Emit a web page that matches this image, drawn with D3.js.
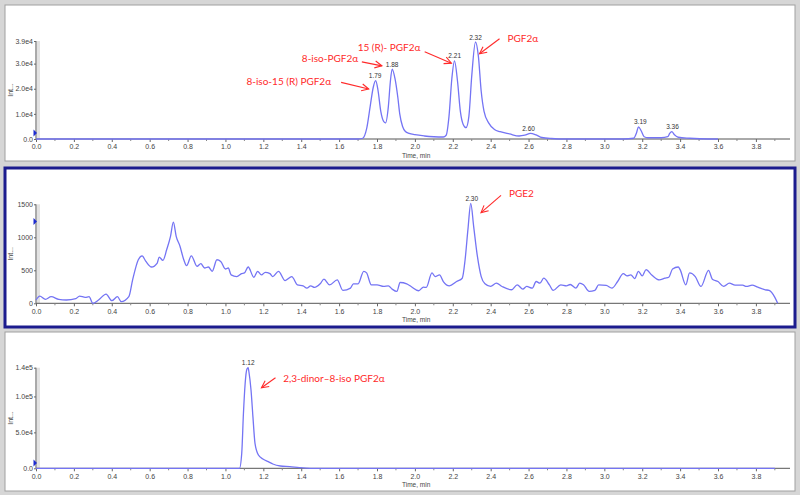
<!DOCTYPE html>
<html>
<head>
<meta charset="utf-8">
<script src="https://cdn.jsdelivr.net/npm/d3@7"></script>
<style>
  body { margin: 0; background: #d6d6d6; }
  svg { display: block; }
</style>
</head>
<body>
<div id="chart"></div>
<script>
const width = 800;
const height = 495;

// top trace (XIC) - time in min, intensity in cps
const topTime = [0, 1.70, 1.725, 1.745, 1.765, 1.78, 1.793, 1.805, 1.82, 1.835, 1.845, 1.86, 1.87, 1.88, 1.895, 1.91, 1.92, 1.935, 1.95, 1.97, 2.00, 2.05, 2.10, 2.15, 2.165, 2.18, 2.195, 2.209, 2.225, 2.24, 2.255, 2.27, 2.285, 2.30, 2.32, 2.335, 2.35, 2.365, 2.39, 2.42, 2.45, 2.50, 2.55, 2.58, 2.61, 2.64, 2.67, 2.72, 2.80, 3.10, 3.155, 3.17, 3.18, 3.195, 3.21, 3.23, 3.30, 3.335, 3.345, 3.356, 3.37, 3.39, 3.45, 3.55, 3.60];
const topIntensity = [0, 0, 300, 4000, 13500, 20500, 23200, 19500, 11000, 7000, 6400, 13000, 22500, 27800, 24000, 16500, 10000, 5000, 3000, 2200, 1700, 1200, 900, 800, 1500, 9000, 24000, 31100, 23000, 11000, 5800, 4500, 9000, 25000, 38600, 33000, 19000, 11000, 6300, 3800, 2900, 2000, 1200, 1500, 2200, 1600, 600, 200, 0, 0, 300, 2500, 4800, 3200, 900, 500, 500, 900, 2200, 2900, 1700, 700, 300, 0, 0];
const topPeaks = [1.79, 1.88, 2.21, 2.32, 2.60, 3.19, 3.36];
const topTicks = [0, 10000, 20000, 30000, 39000];
const topTickLabels = ["0.0", "1.0e4", "2.0e4", "3.0e4", "3.9e4"];

// middle trace
const midTime = [0, 0.02, 0.05, 0.08, 0.12, 0.16, 0.21, 0.23, 0.26, 0.28, 0.30, 0.33, 0.37, 0.40, 0.43, 0.45, 0.49, 0.51, 0.54, 0.56, 0.58, 0.61, 0.64, 0.65, 0.67, 0.69, 0.71, 0.725, 0.74, 0.76, 0.78, 0.795, 0.82, 0.85, 0.87, 0.89, 0.91, 0.93, 0.955, 0.975, 1.0, 1.015, 1.03, 1.06, 1.085, 1.10, 1.12, 1.15, 1.17, 1.19, 1.21, 1.235, 1.25, 1.28, 1.315, 1.35, 1.38, 1.41, 1.43, 1.45, 1.47, 1.50, 1.52, 1.55, 1.59, 1.62, 1.66, 1.675, 1.70, 1.73, 1.745, 1.77, 1.80, 1.835, 1.86, 1.88, 1.905, 1.922, 1.957, 1.98, 2.02, 2.045, 2.06, 2.09, 2.107, 2.13, 2.15, 2.182, 2.22, 2.25, 2.265, 2.28, 2.295, 2.31, 2.33, 2.35, 2.37, 2.40, 2.43, 2.46, 2.51, 2.54, 2.57, 2.59, 2.62, 2.64, 2.66, 2.68, 2.71, 2.73, 2.77, 2.80, 2.82, 2.85, 2.87, 2.89, 2.92, 2.95, 2.97, 3.01, 3.04, 3.07, 3.10, 3.12, 3.14, 3.16, 3.18, 3.20, 3.22, 3.25, 3.29, 3.32, 3.34, 3.36, 3.39, 3.40, 3.43, 3.45, 3.48, 3.51, 3.55, 3.57, 3.60, 3.63, 3.66, 3.69, 3.73, 3.75, 3.78, 3.81, 3.85, 3.87, 3.90, 3.915];
const midIntensity = [50, 110, 60, 100, 60, 50, 70, 110, 90, 100, 0, 50, 140, 40, 100, 25, 100, 355, 660, 720, 635, 550, 610, 700, 650, 815, 1015, 1230, 1015, 865, 660, 570, 720, 560, 600, 535, 550, 485, 660, 635, 520, 535, 430, 405, 450, 460, 550, 395, 485, 430, 470, 450, 405, 485, 345, 405, 280, 265, 230, 265, 240, 295, 365, 280, 355, 195, 230, 295, 295, 485, 460, 280, 280, 255, 265, 215, 180, 315, 295, 255, 190, 245, 240, 460, 405, 430, 330, 265, 330, 380, 660, 1120, 1515, 1170, 710, 405, 295, 255, 305, 255, 205, 280, 215, 255, 230, 330, 305, 380, 280, 195, 280, 265, 285, 230, 305, 280, 180, 195, 280, 270, 230, 330, 450, 415, 430, 375, 485, 415, 510, 430, 355, 380, 395, 520, 550, 510, 280, 460, 405, 255, 500, 365, 330, 255, 305, 275, 275, 255, 275, 245, 205, 195, 90, 0];
const midPeaks = [2.30];
const midTicks = [0, 500, 1000, 1500];
const midTickLabels = ["0", "500", "1000", "1500"];

// bottom trace
const botTime = [0, 1.074, 1.086, 1.095, 1.104, 1.113, 1.12, 1.124, 1.135, 1.145, 1.156, 1.174, 1.20, 1.226, 1.25, 1.29, 1.34, 1.39, 1.45, 3.9];
const botIntensity = [0, 0, 20900, 76500, 118000, 137700, 140000, 134000, 109000, 71900, 34800, 18500, 12500, 9300, 6000, 3200, 2300, 900, 0, 0];
const botPeaks = [1.12];
const botTicks = [0, 50000, 100000, 140000];
const botTickLabels = ["0.0", "5.0e4", "1.0e5", "1.4e5"];

const timeTicks = d3.range(0, 40, 2).map(d => d / 10);

// compound names for the red annotations
const annoNames = ["8-iso-15 (R) PGF2α", "8-iso-PGF2α", "15 (R)- PGF2α", "PGF2α", "PGE2", "2,3-dinor\u20138-iso PGF2α"];
const annoPeaks = [1.79, 1.88, 2.21, 2.32, 2.30, 1.12];
const annoPanel = [0, 0, 0, 0, 1, 2];

// ---- layout ----
const panels = [
  {left: 5, topEdge: 5, w: 790, h: 156, base: 139, top: 41, max: 39000, time: topTime, val: topIntensity, peaks: topPeaks, ticks: topTicks, labels: topTickLabels, stroke: '#a0a0a0', sw: 1, tri: 133},
  {left: 5, topEdge: 168, w: 790, h: 159, base: 303.3, top: 204.3, max: 1500, time: midTime, val: midIntensity, peaks: midPeaks, ticks: midTicks, labels: midTickLabels, stroke: '#1c1c8e', sw: 3, tri: 221.5},
  {left: 5, topEdge: 332, w: 790, h: 159, base: 468.3, top: 367.7, max: 140000, time: botTime, val: botIntensity, peaks: botPeaks, ticks: botTicks, labels: botTickLabels, stroke: '#a0a0a0', sw: 1, tri: 463}
];

// arrow tail / tip and text offsets from each peak apex (px)
const annoLayout = [
  {tail: [-34, 1.7], tip: [-6.4, 8.3], text: [-44, 4], anchor: 'end'},
  {tail: [-30.3, -7.3], tip: [-10.3, -3.3], text: [-34, -7.6], anchor: 'end'},
  {tail: [-30, -9], tip: [-3.3, 2.3], text: [-34.3, -10], anchor: 'end'},
  {tail: [24, -3.3], tip: [4, 11.7], text: [32, 0], anchor: 'start'},
  {tail: [29.3, -8], tip: [9.3, 9.3], text: [37.3, -6], anchor: 'start'},
  {tail: [27.3, 10], tip: [13.3, 20], text: [35, 14.3], anchor: 'start'}
];

const x = d3.scaleLinear().domain([0, 3.98]).range([36, 790]);

const svg = d3.select('#chart')
  .append('svg')
  .attr('width', width)
  .attr('height', height);

svg.append('rect')
  .attr('width', width)
  .attr('height', height)
  .attr('fill', '#d6d6d6');

svg.append('defs').append('marker')
  .attr('id', 'arrow')
  .attr('viewBox', '-8 -5 10 10')
  .attr('markerWidth', 10)
  .attr('markerHeight', 10)
  .attr('markerUnits', 'userSpaceOnUse')
  .attr('orient', 'auto')
  .append('path')
  .attr('d', 'M-7,-3.5 L0,0 L-7,3.5')
  .attr('fill', 'none')
  .attr('stroke', '#ff2a2a')
  .attr('stroke-width', 1.1);

const peakHeight = (p, t) => {
  let best = 0;
  p.time.forEach((tt, i) => { if (Math.abs(tt - t) < 0.02) best = Math.max(best, p.val[i]); });
  return best;
};

panels.forEach(p => {
  const g = svg.append('g');
  const y = d3.scaleLinear().domain([0, p.max]).range([p.base, p.top]);
  p.yScale = y;

  g.append('rect')
    .attr('x', p.left).attr('y', p.topEdge)
    .attr('width', p.w).attr('height', p.h)
    .attr('fill', '#fff')
    .attr('stroke', p.stroke)
    .attr('stroke-width', p.sw);

  // light gray strip next to the y axis
  g.append('rect')
    .attr('x', 37).attr('y', p.top)
    .attr('width', 3).attr('height', p.base - p.top)
    .attr('fill', '#e2e2e2');

  // x axis
  const xAxis = g.append('g')
    .attr('transform', `translate(0,${p.base})`)
    .call(d3.axisBottom(x).tickValues(timeTicks).tickSize(3).tickFormat(d3.format('.1f')));
  xAxis.select('.domain').attr('stroke', '#555').attr('d', `M36,0H790`);
  xAxis.selectAll('.tick line').attr('stroke', '#666');
  xAxis.selectAll('text')
    .attr('font-family', 'Liberation Sans, Arial, sans-serif')
    .attr('font-size', 7)
    .attr('fill', '#444')
    .attr('y', 5.5);
  // minor ticks
  g.selectAll('.minor')
    .data(d3.range(1, 40, 2).map(d => d / 10))
    .enter()
    .append('line')
    .attr('x1', d => x(d)).attr('x2', d => x(d))
    .attr('y1', p.base).attr('y2', p.base + 2)
    .attr('stroke', '#888');

  // y axis
  const yAxis = g.append('g')
    .attr('transform', 'translate(36,0)')
    .call(d3.axisLeft(y).tickValues(p.ticks).tickSize(2).tickFormat((d, i) => p.labels[i]));
  yAxis.select('.domain').attr('stroke', '#555').attr('d', `M0,${p.top}V${p.base}`);
  yAxis.selectAll('.tick line').attr('stroke', '#666');
  yAxis.selectAll('text')
    .attr('font-family', 'Liberation Sans, Arial, sans-serif')
    .attr('font-size', 7)
    .attr('fill', '#444')
    .attr('x', -3);

  // little blue marker on the y axis
  g.append('path')
    .attr('d', `M33.5,${p.tri - 3.5}L37,${p.tri}L33.5,${p.tri + 3.5}Z`)
    .attr('fill', '#1d2bd0');

  g.append('text')
    .attr('transform', `translate(13,${(p.top + p.base) / 2}) rotate(-90)`)
    .attr('text-anchor', 'middle')
    .attr('font-family', 'Liberation Sans, Arial, sans-serif')
    .attr('font-size', 7)
    .attr('fill', '#444')
    .text('Int...');

  g.append('text')
    .attr('x', 402).attr('y', p.base + 19)
    .attr('font-family', 'Liberation Sans, Arial, sans-serif')
    .attr('font-size', 6.5)
    .attr('fill', '#444')
    .text('Time, min');

  const line = d3.line()
    .x((d, i) => x(p.time[i]))
    .y(d => y(d))
    .curve(d3.curveMonotoneX);

  g.append('path')
    .datum(p.val)
    .attr('d', line)
    .attr('fill', 'none')
    .attr('stroke', '#7474f4')
    .attr('stroke-width', 1.3);

  g.selectAll('.peak')
    .data(p.peaks)
    .enter()
    .append('text')
    .attr('x', d => x(d))
    .attr('y', d => y(peakHeight(p, d)) - 2.5)
    .attr('text-anchor', 'middle')
    .attr('font-family', 'Liberation Sans, Arial, sans-serif')
    .attr('font-size', 6.5)
    .attr('fill', '#333')
    .text(d => d3.format('.2f')(d));
});

// red annotations
annoNames.forEach((name, i) => {
  const p = panels[annoPanel[i]];
  const px = x(annoPeaks[i]);
  const py = p.yScale(peakHeight(p, annoPeaks[i]));
  const L = annoLayout[i];
  svg.append('line')
    .attr('x1', px + L.tail[0]).attr('y1', py + L.tail[1])
    .attr('x2', px + L.tip[0]).attr('y2', py + L.tip[1])
    .attr('stroke', '#ff2a2a')
    .attr('stroke-width', 1.1)
    .attr('marker-end', 'url(#arrow)');
  svg.append('text')
    .attr('x', px + L.text[0]).attr('y', py + L.text[1])
    .attr('text-anchor', L.anchor)
    .attr('font-family', 'Lato, Open Sans, sans-serif')
    .attr('font-size', 10)
    .attr('fill', '#ff2a2a')
    .text(name);
});
</script>
</body>
</html>
